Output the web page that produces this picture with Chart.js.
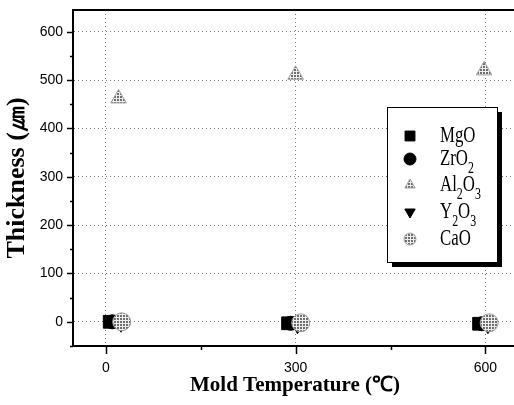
<!DOCTYPE html>
<html>
<head>
<meta charset="utf-8">
<script src="https://cdn.jsdelivr.net/npm/chart.js@4/dist/chart.umd.min.js"></script>
<style>
  html, body { margin: 0; padding: 0; background: #fff; overflow: hidden; }
  #wrap { width: 527px; height: 405px; }
</style>
</head>
<body>
<div id="wrap"><canvas id="chart" width="527" height="405"></canvas></div>
<script>
// series (x = mold temperature, y = thickness)
const seriesNames = ['MgO', 'ZrO2', 'Al2O3', 'Y2O3', 'CaO'];
const mgoX = [6, 288, 590];
const mgoY = [0, -3, -4];
const zro2X = [10, 292, 594];
const zro2Y = [0, -3, -4];
const al2o3X = [20, 300, 598];
const al2o3Y = [462, 511, 520];
const y2o3X = [24, 303, 604];
const y2o3Y = [-5, -8, -8];
const caoX = [25, 308, 606];
const caoY = [0, -2, -2];

const xTicks = [0, 300, 600];
const xMinorTicks = [150, 450];
const yTicks = [0, 100, 200, 300, 400, 500, 600];
const yMinorTicks = [-50, 50, 150, 250, 350, 450, 550];

// dotted grey fill for the light markers
function greyPattern() {
  const c = document.createElement('canvas');
  c.width = 3; c.height = 3;
  const g = c.getContext('2d');
  g.fillStyle = '#eeeeee';
  g.fillRect(0, 0, 3, 3);
  g.fillStyle = '#6e6e6e';
  g.fillRect(0, 0, 2, 2);
  return g.createPattern(c, 'repeat');
}
const grey = greyPattern();

function pts(xs, ys) { return xs.map((x, i) => ({ x: x, y: ys[i] })); }

const markers = [
  { style: 'rect', rot: 0, r: 9, fill: '#000', border: '#000' },
  { style: 'circle', rot: 0, r: 7, fill: '#000', border: '#000' },
  { style: 'triangle', rot: 0, r: 9, fill: grey, border: '#a0a0a0' },
  { style: 'triangle', rot: 180, r: 8, fill: '#000', border: '#000' },
  { style: 'circle', rot: 0, r: 9, fill: grey, border: '#a0a0a0' }
];

const dataSets = [
  pts(mgoX, mgoY), pts(zro2X, zro2Y), pts(al2o3X, al2o3Y), pts(y2o3X, y2o3Y), pts(caoX, caoY)
];
const drawOrder = [1, 3, 4, 2, 0];

const framePlugin = {
  id: 'frame',
  afterDraw(chart) {
    const ctx = chart.ctx;
    const a = chart.chartArea;
    const xs = chart.scales.x, ys = chart.scales.y;
    ctx.save();
    ctx.strokeStyle = '#000';
    ctx.lineWidth = 2;
    // top frame line
    ctx.beginPath();
    ctx.moveTo(a.left, a.top);
    ctx.lineTo(a.right, a.top);
    ctx.stroke();
    // tick marks
    ctx.lineWidth = 1.5;
    ctx.beginPath();
    yTicks.forEach(v => { const p = Math.round(ys.getPixelForValue(v)) + 0.5; ctx.moveTo(a.left - 6, p); ctx.lineTo(a.left, p); });
    yMinorTicks.forEach(v => { const p = Math.round(ys.getPixelForValue(v)) + 0.5; ctx.moveTo(a.left - 3, p); ctx.lineTo(a.left, p); });
    xTicks.forEach(v => { const p = Math.round(xs.getPixelForValue(v)) + 0.5; ctx.moveTo(p, a.bottom); ctx.lineTo(p, a.bottom + 8); });
    xMinorTicks.forEach(v => { const p = Math.round(xs.getPixelForValue(v)) + 0.5; ctx.moveTo(p, a.bottom); ctx.lineTo(p, a.bottom + 4); });
    ctx.stroke();

    // legend box with shadow
    const bx = 387, by = 107, bw = 110, bh = 155;
    ctx.fillStyle = '#000';
    ctx.fillRect(bx + 5, by + 5, bw, bh);
    ctx.fillStyle = '#fff';
    ctx.fillRect(bx, by, bw, bh);
    ctx.lineWidth = 1;
    ctx.strokeRect(bx + 0.5, by + 0.5, bw, bh);

    const rows = [136, 159, 185, 212, 239];
    chart.data.datasets.forEach((ds, i) => {
      const m = markers[i];
      const mx = 410, my = rows[i];
      ctx.fillStyle = m.fill;
      ctx.strokeStyle = m.border;
      ctx.lineWidth = 1;
      Chart.helpers.drawPoint(ctx, { pointStyle: m.style, rotation: m.rot, radius: i === 0 ? 7 : 6, borderWidth: 1 }, mx, my);
      // label, digits as subscripts, narrow serif
      ctx.save();
      ctx.translate(440, my);
      ctx.scale(0.7, 1);
      ctx.fillStyle = '#000';
      ctx.textBaseline = 'middle';
      ctx.textAlign = 'left';
      let tx = 0;
      for (const ch of ds.label) {
        if (/[0-9]/.test(ch)) {
          ctx.font = '17px "Liberation Serif"';
          ctx.fillText(ch, tx, 10);
        } else {
          ctx.font = '24px "Liberation Serif"';
          ctx.fillText(ch, tx, 0);
        }
        tx += ctx.measureText(ch).width;
      }
      ctx.restore();
    });
    ctx.restore();
  }
};

new Chart(document.getElementById('chart'), {
  type: 'scatter',
  data: {
    datasets: dataSets.map((d, i) => ({
      label: seriesNames[i],
      data: d,
      order: drawOrder[i],
      pointStyle: markers[i].style,
      rotation: markers[i].rot,
      pointRadius: markers[i].r,
      pointHoverRadius: markers[i].r,
      backgroundColor: markers[i].fill,
      borderColor: markers[i].border,
      borderWidth: 1
    }))
  },
  options: {
    responsive: false,
    animation: false,
    layout: { padding: { top: 5, right: 0, left: 0, bottom: 0 } },
    scales: {
      x: {
        type: 'linear',
        min: -52,
        max: 650,
        afterBuildTicks: s => { s.ticks = xTicks.map(v => ({ value: v })); },
        afterFit: s => { s.height = 59; },
        ticks: { color: '#000', font: { family: 'Liberation Sans', size: 14 }, padding: 14, maxRotation: 0 },
        grid: { color: '#777', lineWidth: 1, drawTicks: false, tickLength: 0 },
        border: { display: true, color: '#000', width: 2, dash: [1, 3] },
        title: { display: true, text: 'Mold Temperature (℃)', color: '#000', font: { family: 'Liberation Serif', size: 21, weight: 'bold' }, padding: { top: 0, bottom: 7 } }
      },
      y: {
        type: 'linear',
        min: -50,
        max: 645,
        afterBuildTicks: s => { s.ticks = yTicks.map(v => ({ value: v })); },
        afterFit: s => { s.width = 73; s.paddingTop = 0; s.paddingBottom = 0; },
        ticks: { color: '#000', font: { family: 'Liberation Sans', size: 14 }, padding: 10 },
        grid: { color: '#777', lineWidth: 1, drawTicks: false, tickLength: 0 },
        border: { display: true, color: '#000', width: 2, dash: [1, 3] },
        title: { display: true, text: 'Thickness (㎛)', color: '#000', font: { family: 'Liberation Serif', size: 26, weight: 'bold' }, padding: { top: 2, bottom: 0 } }
      }
    },
    plugins: {
      legend: { display: false },
      tooltip: { enabled: false }
    }
  },
  plugins: [framePlugin]
});
</script>
</body>
</html>
